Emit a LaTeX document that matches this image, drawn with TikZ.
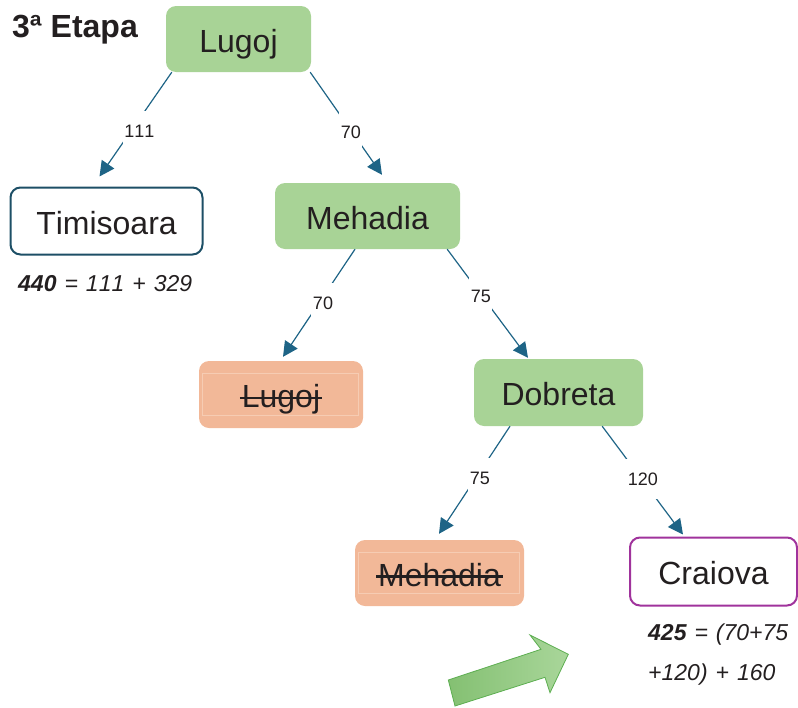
\documentclass[tikz,border=0pt]{standalone}
\usepackage{fontspec}
\setmainfont[Kerning=Off]{Liberation Sans}
\usetikzlibrary{arrows.meta,calc}

% text struck through with a thick rule
\newcommand{\strikeword}[1]{%
  \setbox0\hbox{#1}%
  \rlap{\kern-2pt\raisebox{0.26em}{\rule{\dimexpr\wd0+4pt\relax}{2.4pt}}}\box0}
% slightly wider interword spaces for the formulas
\newcommand{\widespaces}{\spaceskip=8pt\relax}

\definecolor{ink}{HTML}{231F20}
\definecolor{openfill}{HTML}{A8D396}
\definecolor{closedfill}{HTML}{F2B898}
\definecolor{closedline}{HTML}{F6CCB3}
\definecolor{edgecol}{HTML}{1E6486}
\definecolor{timiline}{HTML}{1D4F66}
\definecolor{goalline}{HTML}{A0339C}
\definecolor{arrowdark}{HTML}{84C072}
\definecolor{arrowlight}{HTML}{A9D69A}
\definecolor{arrowline}{HTML}{5CAE50}

\tikzset{
  box/.style={rounded corners=10pt, inner sep=0pt, text=ink,
    font=\fontsize{32}{36}\selectfont, text height=26pt, text depth=0pt},
  openbox/.style={box, fill=openfill},
  closedbox/.style={box, fill=closedfill},
  leafbox/.style={box, fill=white, line width=2pt},
  edge/.style={draw=edgecol, line width=1.2pt,
    -{Triangle[length=15pt,width=15pt]}},
  cost/.style={fill=white, text=ink, inner xsep=1.5pt, inner ysep=0pt,
    minimum height=40pt, font=\fontsize{18}{20}\selectfont,
    text height=13pt, text depth=0pt},
  formula/.style={text=ink, inner sep=0pt, anchor=base west,
    font=\fontsize{23}{26}\selectfont\itshape\widespaces}
}

\begin{document}
\begin{tikzpicture}[x=1pt,y=-1pt]
\useasboundingbox (0,0) rectangle (798,707);

% title
\node[anchor=base west, inner sep=0pt, text=ink,
  font=\fontsize{32}{36}\selectfont\bfseries] (title) at (12,37) {3ª Etapa};

% search tree
\node[openbox, minimum width=145pt, minimum height=66pt] (lugoj) at (238.5,39) {Lugoj};
\node[leafbox, draw=timiline, minimum width=192pt, minimum height=67pt] (timi) at (106.5,221) {Timisoara};
\node[openbox, minimum width=185pt, minimum height=66pt] (meha) at (367.5,216) {Mehadia};
\node[closedbox, minimum width=164pt, minimum height=67pt] (lugojb) at (281,394.5) {\strikeword{Lugoj}};
\node[openbox, minimum width=169pt, minimum height=67pt] (dob) at (558.5,392.5) {Dobreta};
\node[closedbox, minimum width=169pt, minimum height=66pt] (mehb) at (439.5,573) {\strikeword{Mehadia}};
\node[leafbox, draw=goalline, minimum width=167pt, minimum height=68pt] (cra) at (713.5,571.5) {Craiova};

% faint frames inside the closed nodes
\draw[closedline, line width=0.6pt] ($(lugojb.north west)+(3,12)$) rectangle ($(lugojb.south east)+(-5,-13)$);
\draw[closedline, line width=0.6pt] ($(mehb.north west)+(3,12)$) rectangle ($(mehb.south east)+(-5,-13)$);

% edges with step costs
\draw[edge] ([xshift=6pt]lugoj.south west) -- node[cost, pos=0.56, xshift=8pt]{111} ([xshift=-7pt,yshift=10pt]timi.north);
\draw[edge] ([xshift=-1pt]lugoj.south east) -- node[cost, pos=0.58, xshift=-1pt]{70} ([xshift=14.5pt,yshift=8pt]meha.north);
\draw[edge] ([xshift=-12.5pt]meha.south) -- node[cost, pos=0.5, xshift=4pt]{70} ([xshift=2pt,yshift=4pt]lugojb.north);
\draw[edge] ([xshift=-13pt]meha.south east) -- node[cost, pos=0.43, xshift=-1pt]{75} ([xshift=-30.5pt,yshift=1pt]dob.north);
\draw[edge] ([xshift=-48.5pt]dob.south) -- node[cost, pos=0.48, xshift=4pt]{75} ([xshift=-0.5pt,yshift=6pt]mehb.north);
\draw[edge] ([xshift=-41pt]dob.south east) -- node[cost, pos=0.49, xshift=1pt]{120} ([xshift=-30.5pt,yshift=2pt]cra.north);

% evaluation f = g + h
\node[formula] (ftimi) at (18,291.5) {\textbf{440} = 111 + 329};
\node[formula] (fcra1) at (648,640) {\textbf{425} = (70+75};
\node[formula] (fcra2) at (648,680) {+120) + 160};

% pointer to the chosen node
\shade[draw=arrowline, line width=0.8pt, left color=arrowdark, right color=arrowlight]
  (448.3,680) -- (541,649.3) -- (530,635) -- (568.3,654.3) -- (550,692.7)
  -- (545,677.3) -- (455,706) -- cycle;
\end{tikzpicture}
\end{document}
